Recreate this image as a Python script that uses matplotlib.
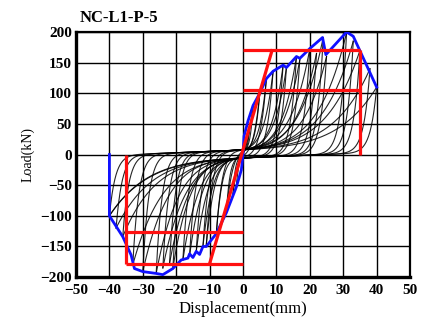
import numpy as np
import matplotlib.pyplot as plt

plt.rcParams['font.family'] = ['Liberation Serif', 'DejaVu Serif']
plt.rcParams['font.size'] = 11
plt.rcParams['font.weight'] = 'bold'

# cycle peaks: positive displacement / load, negative displacement / load
peak_dpos = [2, 3, 5, 7, 9, 12, 13, 16, 17, 20, 22, 24, 25, 31, 33, 35, 38, 40]
peak_fpos = [45, 80, 100, 124, 136, 146, 142, 160, 155, 173, 165, 191, 160, 199, 185, 170, 140, 110]
peak_dneg = [-2, -3, -5, -8, -11, -12, -14, -16, -18, -21, -22, -26, -24, -30, -33, -36, -38, -40]
peak_fneg = [-50, -65, -95, -129, -148, -150, -158, -165, -172, -186, -178, -194, -185, -191, -180, -134, -120, -100]

# skeleton (envelope) curve
env_x = [-40, -40, -36, -33.5, -32.5, -30, -26, -24, -21, -18.5, -16.5, -16, -15, -14, -13, -12,
         -11, -8, -5, -2, -0.5, 0, 0.3, 1.5, 3, 5, 7, 9, 12, 13, 16, 17, 20, 23.8, 24.8, 31, 33, 40]
env_y = [0, -100, -134, -164, -186, -191, -194, -196, -186, -172, -169, -162, -168, -158, -163, -150,
         -150, -129, -95, -53, -25, 0, 30, 55, 80, 100, 124, 136, 146, 142, 160, 157, 173, 191, 163, 200, 193, 110]

# simplified trilinear model lines
elastic_x = [-10, 8.8]
elastic_y = [-178, 172]
yield_pos, peak_pos, ult_pos = 105, 170, 35
yield_neg, peak_neg, ult_neg = -126, -178, -35


def branch(d_from, f_from, d_to, f_to, slip):
    # pinched half cycle: steep unloading, slip plateau, stiffening reload
    rng = abs(d_to - d_from)
    a = max(rng / 1.8, 4)
    b = 7.5
    t = np.linspace(0, 1, 400)
    d = d_from + (d_to - d_from) * t
    w0 = (1 - t) ** a
    w1 = t ** b
    mid = slip + 0.2 * d
    f = f_from * w0 + f_to * w1 + mid * (1 - w0) * (1 - w1)
    return d, f


fig = plt.figure(figsize=(4.21, 3.20), dpi=100)
ax = fig.add_axes([0.1805, 0.134, 0.7935, 0.766])

for i in range(len(peak_dpos)):
    dp, fp = peak_dpos[i], peak_fpos[i]
    dn, fn = peak_dneg[i], peak_fneg[i]
    d, f = branch(dn, fn, dp, fp, 7)
    ax.plot(d, f, color='black', lw=0.8, alpha=0.85)
    if i + 1 < len(peak_dpos):
        dn2, fn2 = peak_dneg[i + 1], peak_fneg[i + 1]
    else:
        dn2, fn2 = dn, fn
    d, f = branch(dp, fp, dn2, fn2, -5)
    ax.plot(d, f, color='black', lw=0.8, alpha=0.85)

ax.plot(env_x, env_y, color='#1010ff', lw=2.0, zorder=5)

red = dict(color='#ff1010', lw=2.3, zorder=6, solid_capstyle='butt')
ax.plot(elastic_x, elastic_y, **red)
ax.plot([0, ult_pos], [peak_pos, peak_pos], **red)
ax.plot([0, ult_pos], [yield_pos, yield_pos], **red)
ax.plot([ult_pos, ult_pos], [0, peak_pos], **red)
ax.plot([ult_neg, 0], [peak_neg, peak_neg], **red)
ax.plot([ult_neg, 0], [yield_neg, yield_neg], **red)
ax.plot([ult_neg, ult_neg], [0, peak_neg], **red)

ax.set_xlim(-50, 50)
ax.set_ylim(-200, 200)
ax.set_xticks(np.arange(-50, 51, 10))
ax.set_yticks(np.arange(-200, 201, 50))
ax.grid(True, color='black', lw=1.0)
ax.set_axisbelow(True)
ax.tick_params(length=0)
ax.tick_params(axis='x', pad=5)
ax.tick_params(axis='y', pad=3)
ax.spines['left'].set_linewidth(2.4)
ax.spines['bottom'].set_linewidth(2.4)
ax.spines['top'].set_linewidth(1.6)
ax.spines['right'].set_linewidth(1.6)

ax.set_xlabel('Displacement(mm)', fontsize=12, labelpad=3)
ax.set_ylabel('Load(kN)', fontsize=10, labelpad=4)
fig.text(0.19, 0.945, 'NC-L1-P-5', ha='left', va='center', fontsize=12)

fig.savefig('out.png', dpi=100)
